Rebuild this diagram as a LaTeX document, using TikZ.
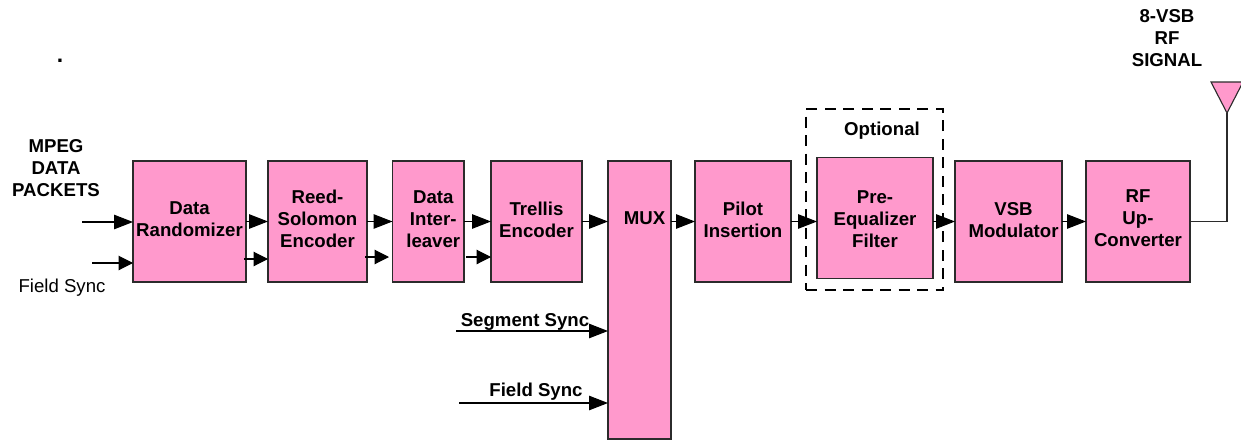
\documentclass[tikz,border=0pt]{standalone}
\usepackage{fontspec}
\setmainfont{Liberation Sans}
\usepackage{xcolor}
\usetikzlibrary{arrows.meta,positioning,calc}
\definecolor{BlockPink}{HTML}{FF99CC}
\definecolor{BlockEdge}{HTML}{2B2B2B}
\tikzset{
  block/.style={draw=BlockEdge,line width=0.26mm,fill=BlockPink,align=center,outer sep=0pt,
              minimum height=24.2mm,inner sep=0pt,font=\fontsize{10.6}{12.5}\selectfont\bfseries},
  tag/.style={font=\fontsize{10.6}{12.7}\selectfont\bfseries,align=center,inner sep=0pt},
  plaintag/.style={font=\fontsize{10.6}{12.7}\selectfont,align=center,inner sep=0pt},
  flow/.style={-{Triangle[length=3.8mm,width=2.9mm]},line width=0.22mm,draw=black},
  shortflow/.style={-{Triangle[length=2.9mm,width=2.9mm]},line width=0.22mm,draw=black},
  wire/.style={line width=0.22mm,draw=BlockEdge},
  optbox/.style={draw=black,line width=0.24mm,dash pattern=on 2.2mm off 1.5mm,outer sep=0pt,
              minimum width=27.4mm,minimum height=36.2mm,inner sep=0pt}
}
\begin{document}
\begin{tikzpicture}[node distance=4.4mm]
  \useasboundingbox (0,0) rectangle (248.2mm,-88mm);
  \node[optbox,anchor=north west] (optional) at (161.2mm,-21.8mm) {};

  \node[block,minimum width=22.6mm,anchor=north west] (randomizer) at (26.6mm,-32.2mm) {Data\\Randomizer\vspace*{1mm}};
  \node[block,minimum width=19.8mm,right=4.4mm of randomizer] (reed) {Reed-\\Solomon\\Encoder\vspace*{1mm}};
  \node[block,minimum width=14.3mm,right=5.1mm of reed] (inter) {\hspace*{2mm}Data\\\hspace*{2mm}Inter-\\\hspace*{2mm}leaver\vspace*{1mm}};
  \node[block,minimum width=18.2mm,right=5.4mm of inter] (trellis) {Trellis\\Encoder\vspace*{0.6mm}};
  \node[block,minimum width=12.6mm,minimum height=55.6mm,right=5.2mm of trellis.north east,anchor=north west] (mux) {};
  \node[tag] (muxtext) at (128.9mm,-43.7mm) {MUX};
  \node[block,minimum width=19.2mm,right=4.8mm of mux.north east,anchor=north west] (pilot) {Pilot\\Insertion\vspace*{0.6mm}};
  \node[block,minimum width=23.2mm,right=5.2mm of pilot.north east,anchor=north west,yshift=0.7mm] (equalizer) {Pre-\\Equalizer\\Filter\vspace*{-0.4mm}};
  \node[block,minimum width=21.4mm,anchor=north west] (modulator) at (191mm,-32.2mm) {\hspace*{2mm}VSB\\\hspace*{2mm}Modulator\vspace*{0.6mm}};
  \node[block,minimum width=20.8mm,right=4.8mm of modulator] (upconv) {RF\\Up-\\Converter\vspace*{1.4mm}};

  \node[tag] (mpeg) at (11.2mm,-33.6mm) {MPEG\\DATA\\PACKETS};
  \node[plaintag] (fieldone) at (12.4mm,-57.6mm) {Field Sync};
  \node[tag] (segment) at (105mm,-64.4mm) {Segment Sync};
  \node[tag] (fieldtwo) at (107.2mm,-78.4mm) {Field Sync};
  \node[tag] (opttext) at (176.4mm,-26.2mm) {Optional};
  \node[tag] (rfsignal) at (233.4mm,-7.6mm) {8-VSB\\RF\\SIGNAL};
  \node[tag,font=\fontsize{13}{13}\selectfont\bfseries] (dot) at (12mm,-12.2mm) {.};

  \coordinate (mpegin) at (16.4mm,-44.4mm);
  \coordinate (syncin) at (18.4mm,-52.6mm);
  \coordinate (segin) at (91.2mm,-66.2mm);
  \coordinate (fieldin) at (91.8mm,-80.6mm);
  \coordinate (tip) at (245.4mm,-22.6mm);

  \draw[flow] (mpegin) -- (mpegin -| randomizer.west);
  \draw[shortflow] (syncin) -- (syncin -| randomizer.west);
  \draw[flow] (segin) -- (segin -| mux.west);
  \draw[flow] (fieldin) -- (fieldin -| mux.west);

  \draw[flow] (randomizer) -- (reed);
  \draw[shortflow] ($(randomizer.east)+(-0.4mm,-7.5mm)$) -- ($(reed.west)+(0,-7.5mm)$);
  \draw[flow] (reed) -- (inter);
  \draw[shortflow,shorten >=0.7mm] ($(reed.east)+(-0.4mm,-7.1mm)$) -- ($(inter.west)+(0,-7.1mm)$);
  \draw[flow] (inter) -- (trellis);
  \draw[shortflow] ($(inter.east)+(0.4mm,-7.1mm)$) -- ($(trellis.west)+(0,-7.1mm)$);
  \draw[flow] (trellis.east) -- (trellis.east -| mux.west);
  \draw[flow] (trellis.east -| mux.east) -- (trellis.east -| pilot.west);
  \draw[flow] (pilot.east) -- (pilot.east -| equalizer.west);
  \draw[flow] (pilot.east -| equalizer.east) -- (modulator.west);
  \draw[flow] (modulator) -- (upconv);

  \draw[wire,fill=BlockPink] (tip) -- ++(-3.2mm,6.2mm) -- ++(6.4mm,0) -- cycle;
  \draw[wire] (upconv.east) -| (tip);
\end{tikzpicture}
\end{document}
